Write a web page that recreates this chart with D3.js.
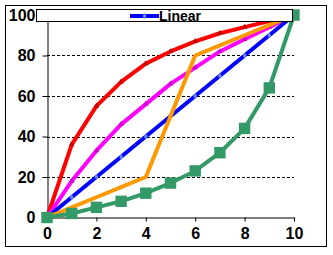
<!DOCTYPE html>
<html>
<head>
<meta charset="utf-8">
<script src="https://cdn.jsdelivr.net/npm/d3@7"></script>
<style>
  body { margin: 0; background: #fff; }
  text { font-family: "Liberation Sans", Arial, sans-serif; font-weight: bold; }
</style>
</head>
<body>
<div id="chart"></div>
<script>
let width = 333;
let height = 255;

// data
let xs = [0, 1, 2, 3, 4, 5, 6, 7, 8, 9, 10];
let redVals = [0, 36, 55, 67, 76, 82, 87, 91, 94, 97, 100];
let magentaVals = [0, 18, 33, 46, 56, 66, 74, 82, 88, 94, 100];
let linearVals = [0, 10, 20, 30, 40, 50, 60, 70, 80, 90, 100];
let orangeVals = [0, 5, 10, 15, 20, 50, 80, 85, 90, 95, 100];
let greenVals = [0, 2, 5, 8, 12, 17, 23, 32, 44, 64, 100];
let xTicks = [0, 2, 4, 6, 8, 10];
let yTicks = [0, 20, 40, 60, 80, 100];

let svg = d3.select("#chart")
      .append("svg")
      .attr("width", width)
      .attr("height", height);

// outer frame
svg.append("rect")
      .attr("x", 5.5).attr("y", 5.5)
      .attr("width", 321).attr("height", 241)
      .attr("fill", "#fff")
      .attr("stroke", "#000");

let x = d3.scaleLinear().domain([0, 10]).range([47, 294]);
let y = d3.scaleLinear().domain([0, 100]).range([217.5, 15]);

// dashed gridlines
svg.append("g")
      .selectAll("line")
      .data(yTicks.filter(d => d > 0 && d < 100))
      .join("line")
      .attr("x1", x(0)).attr("x2", x(10))
      .attr("y1", d => Math.round(y(d)) + 0.5)
      .attr("y2", d => Math.round(y(d)) + 0.5)
      .attr("stroke", "#000")
      .attr("stroke-dasharray", "3,2");

// Y axis
let yAxis = svg.append("g")
      .attr("transform", `translate(${x(0) + 0.5},0)`)
      .call(d3.axisLeft(y).tickValues(yTicks).tickSize(5).tickPadding(7));
yAxis.selectAll("text").style("font-size", "16px").attr("fill", "#000");

// X axis
let xAxis = svg.append("g")
      .attr("transform", `translate(0,${y(0)})`)
      .call(d3.axisBottom(x).tickValues(xTicks).tickSize(4).tickPadding(6).tickSizeOuter(0));
xAxis.selectAll("text").style("font-size", "16px").attr("fill", "#000");
xAxis.select(".domain").attr("stroke", "#000");

let series = [
      { name: "Exp", vals: redVals, color: "#ff0000", marker: "#c00000", sym: d3.symbolTriangle, size: 14 },
      { name: "Pow", vals: magentaVals, color: "#ff00ff", marker: "#cc00cc", sym: d3.symbolTriangle, size: 14 },
      { name: "Linear", vals: linearVals, color: "#0000ff", marker: "#6688ff", sym: d3.symbolDiamond, size: 12 },
      { name: "Step", vals: orangeVals, color: "#ff9900", marker: "#ff9900", sym: d3.symbolTriangle, size: 0 },
      { name: "Green", vals: greenVals, color: "#339966", marker: "#339966", sym: d3.symbolSquare, size: 130 }
];

let line = d3.line()
      .x((d, i) => x(xs[i]))
      .y(d => y(d));

series.forEach(s => {
      svg.append("path")
            .datum(s.vals)
            .attr("fill", "none")
            .attr("stroke", s.color)
            .attr("stroke-width", 4)
            .attr("stroke-linejoin", "round")
            .attr("d", line);

      if (s.size > 0) {
            svg.append("g")
                  .selectAll("path")
                  .data(s.vals)
                  .join("path")
                  .attr("transform", (d, i) => `translate(${x(xs[i])},${y(d)})`)
                  .attr("d", d3.symbol().type(s.sym).size(s.size))
                  .attr("fill", s.marker);
      }
});

// legend box (drawn over the top of the lines)
let legend = svg.append("g");
legend.append("rect")
      .attr("x", 36.5).attr("y", 9.5)
      .attr("width", 256).attr("height", 12)
      .attr("fill", "#fff")
      .attr("stroke", "#000");
legend.append("line")
      .attr("x1", 130).attr("x2", 159)
      .attr("y1", 16).attr("y2", 16)
      .attr("stroke", "#0000ff")
      .attr("stroke-width", 4);
legend.append("path")
      .attr("transform", "translate(144.5,16)")
      .attr("d", d3.symbol().type(d3.symbolDiamond).size(12))
      .attr("fill", "#6688ff");
legend.append("text")
      .attr("x", 159).attr("y", 21)
      .style("font-size", "14px")
      .text("Linear");
</script>
</body>
</html>
